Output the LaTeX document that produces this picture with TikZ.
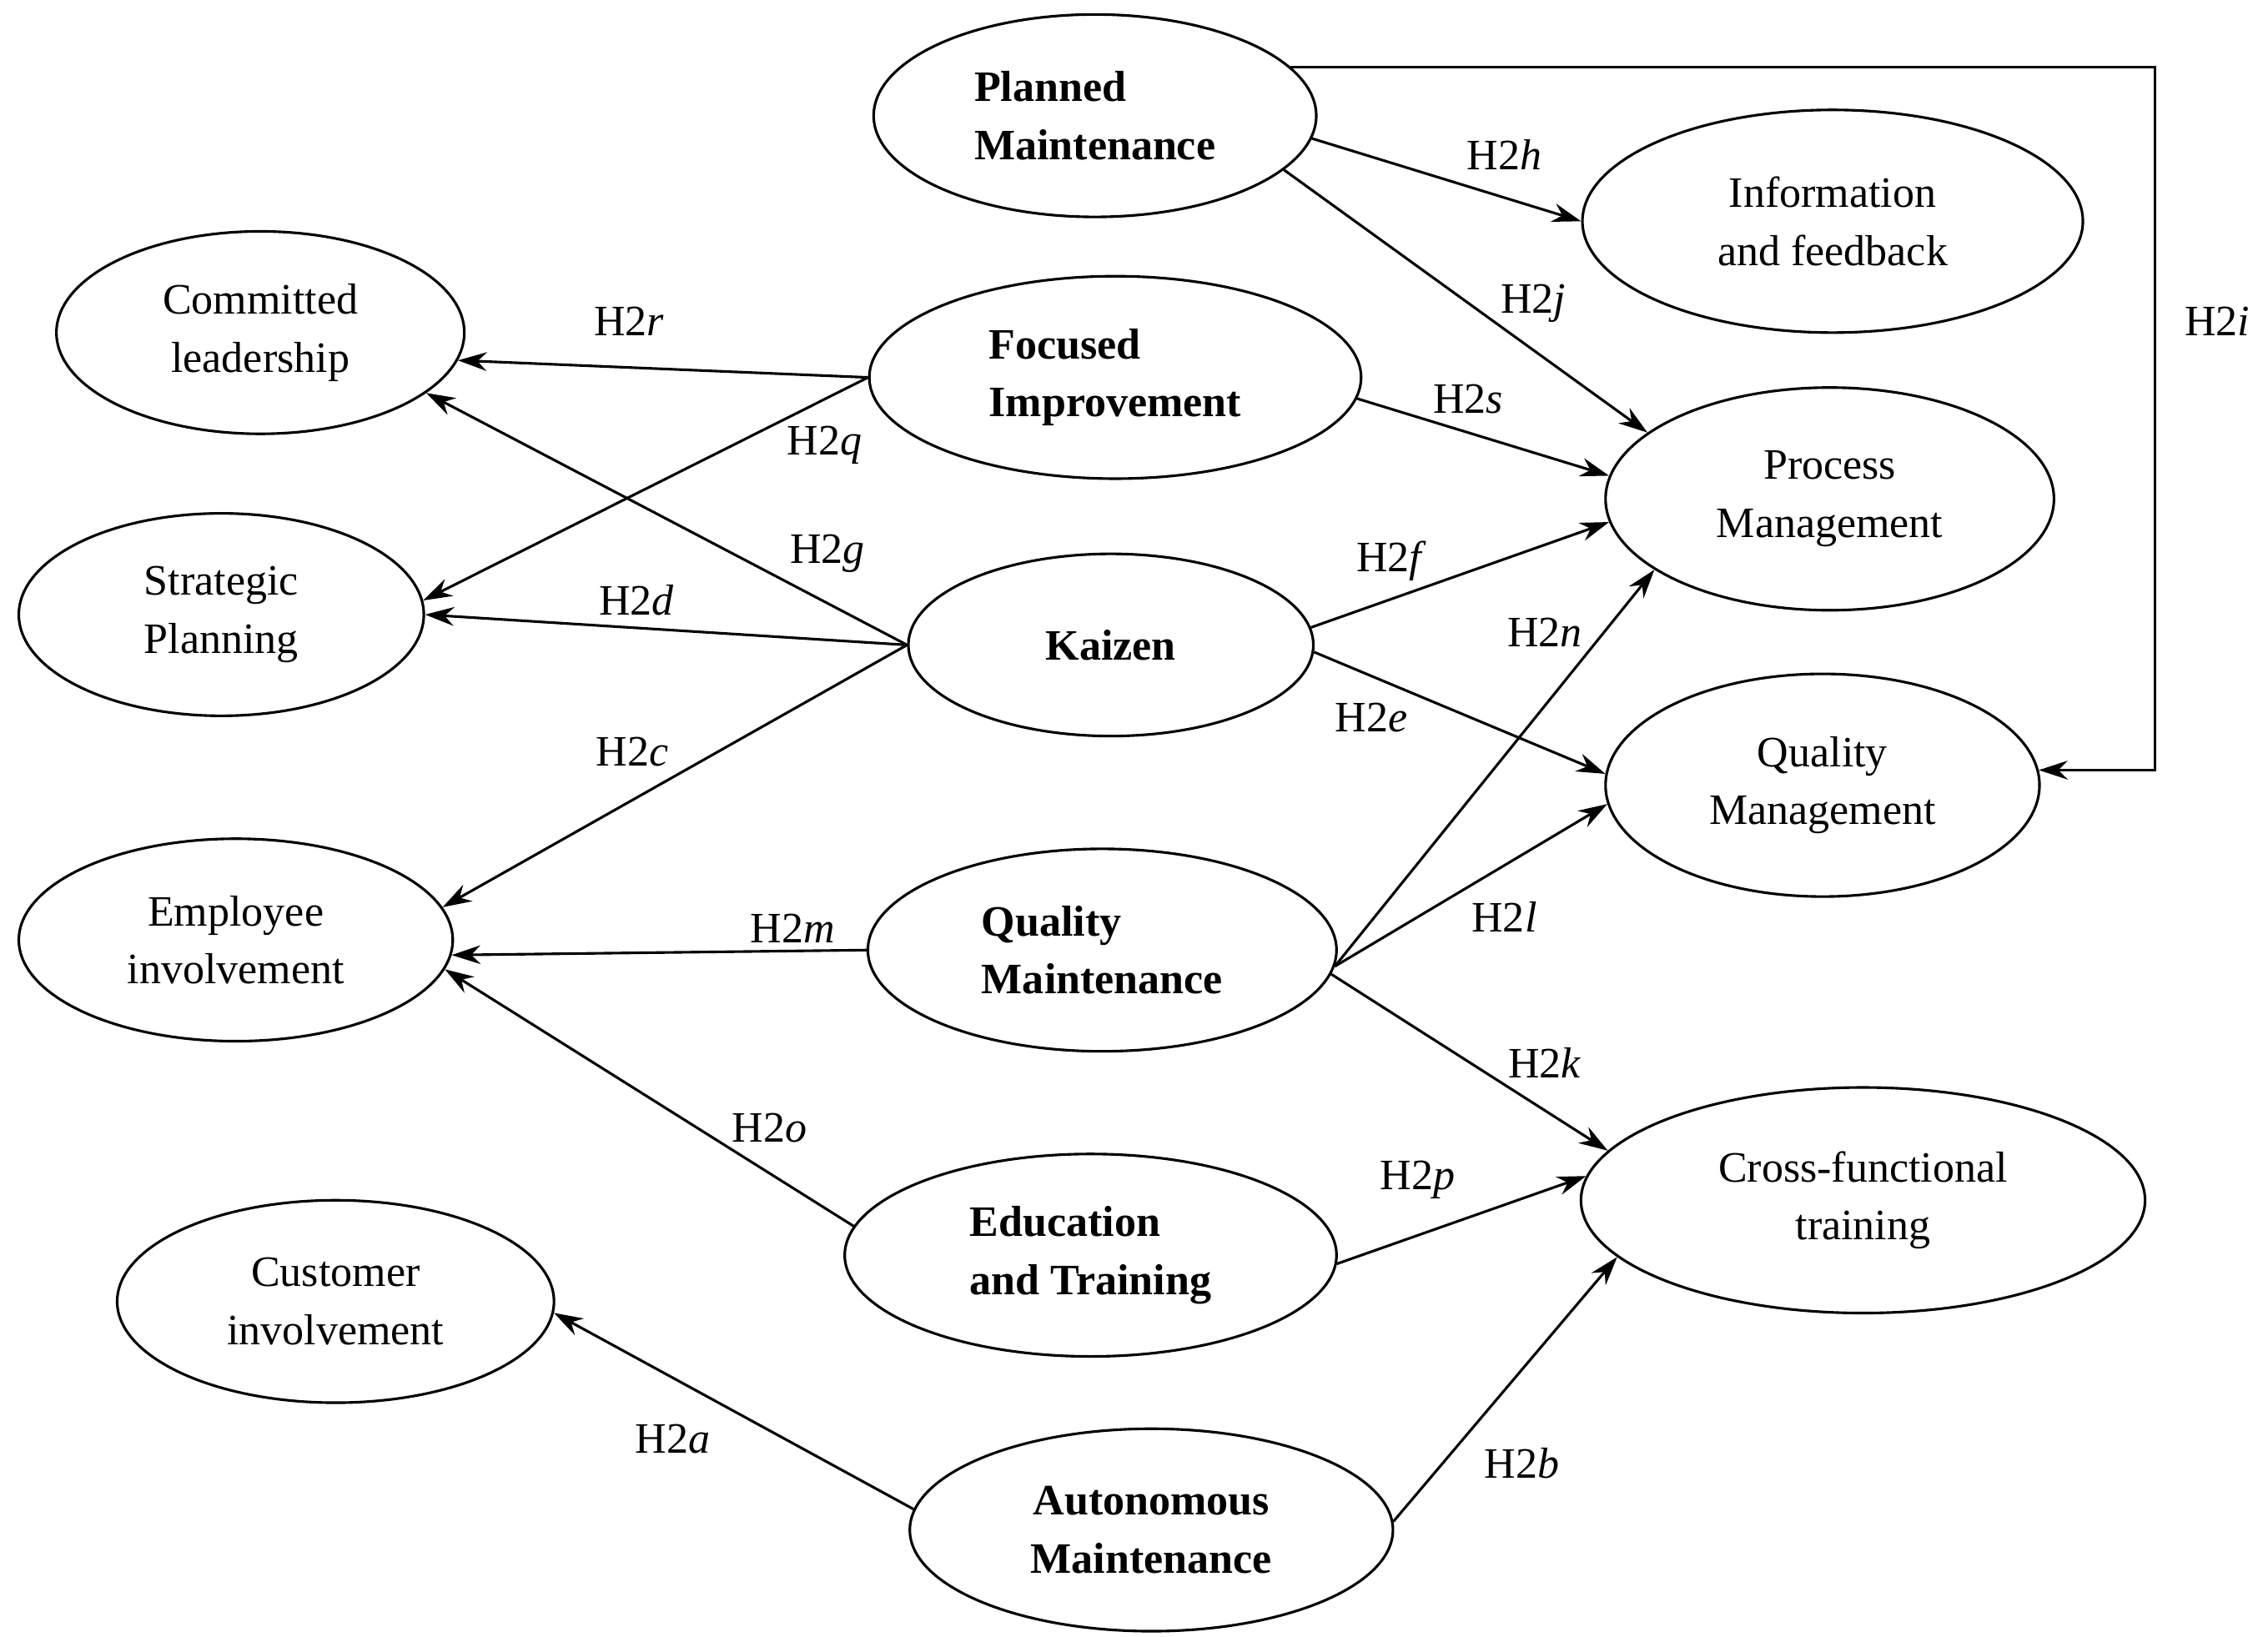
\documentclass[tikz,border=0pt]{standalone}
\usepackage{fontspec}
\setmainfont{Liberation Serif}
\usetikzlibrary{shapes.geometric,arrows.meta}
\begin{document}
\begin{tikzpicture}[x=1pt,y=-1pt,
  el/.style={draw,ellipse,line width=1.8pt,minimum width=#1},
  src/.style={font=\fontsize{30}{40}\selectfont\bfseries,align=left},
  tgt/.style={font=\fontsize{30}{40}\selectfont,align=center},
  lab/.style={font=\fontsize{30}{36}\selectfont},
  ar/.style={line width=1.8pt,-{Stealth[length=20pt,width=13pt]}}]
\useasboundingbox (0,0) rectangle (1568,1132);
\def\E#1#2#3#4#5#6#7{\draw[line width=1.8pt] (#2,#3) ellipse ({#4} and {#5}); \node[#6] at (#2,#3) {#7}; \coordinate (#1) at (#2,#3);}
\node[draw,ellipse,line width=1.8pt,minimum width=306,minimum height=140,inner sep=0,src] (pm) at (757,80) {Planned\\Maintenance};
\node[draw,ellipse,line width=1.8pt,minimum width=346,minimum height=154,inner sep=0,tgt] (inf) at (1267,153) {Information\\and feedback};
\node[draw,ellipse,line width=1.8pt,minimum width=282,minimum height=140,inner sep=0,tgt] (cl) at (180,230) {Committed\\leadership};
\node[draw,ellipse,line width=1.8pt,minimum width=340,minimum height=140,inner sep=0,src] (fi) at (771,261) {Focused\\Improvement};
\node[draw,ellipse,line width=1.8pt,minimum width=310,minimum height=154,inner sep=0,tgt] (pr) at (1265,345) {Process\\Management};
\node[draw,ellipse,line width=1.8pt,minimum width=280,minimum height=140,inner sep=0,tgt,align=left] (sp) at (153,425) {Strategic\\Planning};
\node[draw,ellipse,line width=1.8pt,minimum width=280,minimum height=126,inner sep=0,src] (kz) at (768,446) {Kaizen};
\node[draw,ellipse,line width=1.8pt,minimum width=300,minimum height=154,inner sep=0,tgt] (qm) at (1260,543) {Quality\\Management};
\node[draw,ellipse,line width=1.8pt,minimum width=300,minimum height=140,inner sep=0,tgt] (em) at (163,650) {Employee\\involvement};
\node[draw,ellipse,line width=1.8pt,minimum width=324,minimum height=140,inner sep=0,src] (qa) at (762,657) {Quality\\Maintenance};
\node[draw,ellipse,line width=1.8pt,minimum width=390,minimum height=156,inner sep=0,tgt] (cf) at (1288,830) {Cross-functional\\training};
\node[draw,ellipse,line width=1.8pt,minimum width=340,minimum height=140,inner sep=0,src] (et) at (754,868) {Education\\and Training};
\node[draw,ellipse,line width=1.8pt,minimum width=302,minimum height=140,inner sep=0,tgt] (cu) at (232,900) {Customer\\involvement};
\node[draw,ellipse,line width=1.8pt,minimum width=334,minimum height=140,inner sep=0,src,align=center] (am) at (796,1058) {Autonomous\\Maintenance};
\coordinate (c1) at (1490,45);
\draw[ar] (pm.-6) -- (inf.west);
\draw[ar] (pm.-16) -- (pr.160);
\draw[ar] (pm.14) -- (pm.14 -| c1) |- (qm.4);
\draw[ar] (fi.west) -- (cl.-8);
\draw[ar] (fi.west) -- (sp.4);
\draw[ar] (fi.-5) -- (pr.174);
\draw[ar] (kz.west) -- (cl.-20);
\draw[ar] (kz.west) -- (sp.east);
\draw[ar] (kz.west) -- (em.9);
\draw[ar] (kz.5) -- (pr.186);
\draw[ar] (kz.-2) -- (qm.177);
\draw[ar] (qa.-4) -- (pr.202);
\draw[ar] (qa.-4) -- (qm.185);
\draw[ar] (qa.-6) -- (cf.169);
\draw[ar] (qa.west) -- (em.-4);
\draw[ar] (et.173) -- (em.-8);
\draw[ar] (et.-2) -- (cf.175);
\draw[ar] (am.175) -- (cu.-3);
\draw[ar] (am.2) -- (cf.193);
\node[lab] at (1040,107) {H2\textit{h}};
\node[lab] at (1060,210) {H2\textit{j}};
\node[lab] at (1533,222) {H2\textit{i}};
\node[lab] at (435,222) {H2\textit{r}};
\node[lab] at (570,308) {H2\textit{q}};
\node[lab] at (1015,276) {H2\textit{s}};
\node[lab] at (572,383) {H2\textit{g}};
\node[lab] at (440,415) {H2\textit{d}};
\node[lab] at (437,520) {H2\textit{c}};
\node[lab] at (962,388) {H2\textit{f}};
\node[lab] at (948,496) {H2\textit{e}};
\node[lab] at (1068,437) {H2\textit{n}};
\node[lab] at (1040,634) {H2\textit{l}};
\node[lab] at (1068,735) {H2\textit{k}};
\node[lab] at (548,642) {H2\textit{m}};
\node[lab] at (532,780) {H2\textit{o}};
\node[lab] at (980,816) {H2\textit{p}};
\node[lab] at (465,995) {H2\textit{a}};
\node[lab] at (1052,1012) {H2\textit{b}};
\end{tikzpicture}
\end{document}
